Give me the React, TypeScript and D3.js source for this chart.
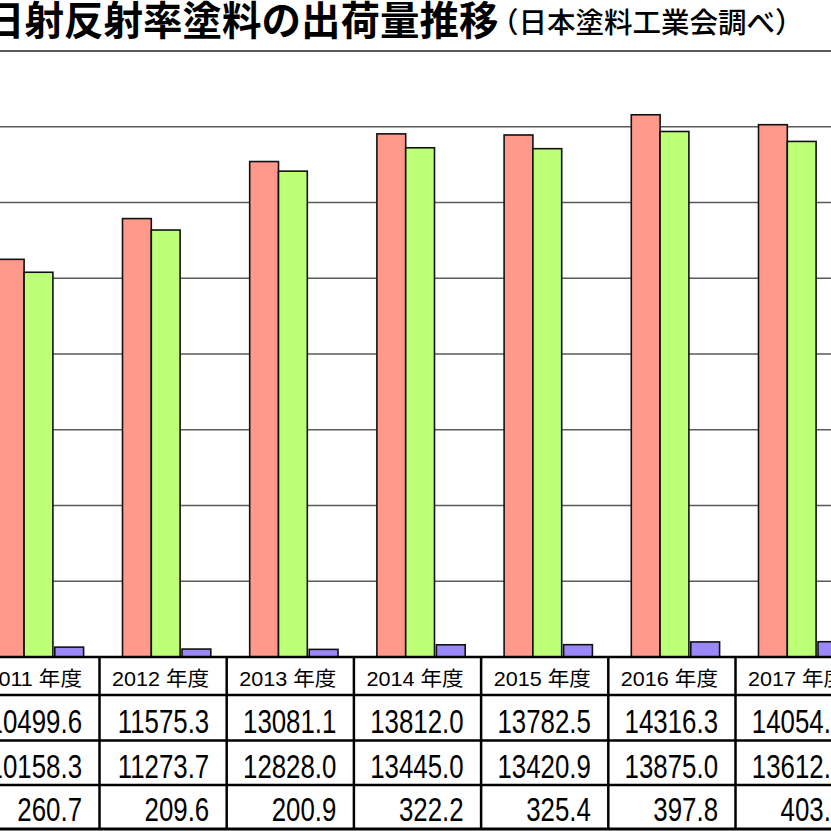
import React from "react";
import * as d3 from "d3";

const years = ["2011", "2012", "2013", "2014", "2015", "2016", "2017"];
const seriesA = [10499.6, 11575.3, 13081.1, 13812.0, 13782.5, 14316.3, 14054.2];
const seriesB = [10158.3, 11273.7, 12828.0, 13445.0, 13420.9, 13875.0, 13612.4];
const seriesC = [260.7, 209.6, 200.9, 322.2, 325.4, 397.8, 403.6];
const yTicks = [2000, 4000, 6000, 8000, 10000, 12000, 14000, 16000];
const titleMain = "日射反射率塗料の出荷量推移";
const titleSub = "（日本塗料工業会調べ）";
const yearSuffix = " 年度";

const W = 831;
const H = 831;
const colors = ["#FF998C", "#BEFF78", "#9B88F8"];

export default function App() {
  const x = d3
    .scaleBand<string>()
    .domain(years)
    .range([-27.7, -27.7 + years.length * 127.2])
    .padding(0);
  const y = d3.scaleLinear().domain([0, 16000]).range([657, 51]);
  const bw = 28.8;
  const offsets = [23, 23 + bw, 82.5];
  const series = [seriesA, seriesB, seriesC];
  const rowLines = [657, 695, 740.5, 785, 829];
  const rowBase = [733, 778, 821];
  const textFont = "'Liberation Sans', 'Noto Sans CJK JP', sans-serif";
  const step = x.step();

  return (
    <div style={{ position: "fixed", left: 0, top: 0, width: W, height: H, overflow: "hidden", background: "#fff" }}>
      <svg width={W} height={H} viewBox={`0 0 ${W} ${H}`} style={{ display: "block" }}>
        <rect x={0} y={0} width={W} height={H} fill="#fff" />
        <text x={-15} y={35} fontFamily="'Noto Sans CJK JP', sans-serif" fontWeight={700} fontSize={39.5} fill="#000">
          {titleMain}
        </text>
        <text x={490} y={33} fontFamily="'Noto Sans CJK JP', sans-serif" fontWeight={500} fontSize={28.5} fill="#000">
          {titleSub}
        </text>
        {yTicks.map((t) => (
          <line key={t} x1={0} x2={W} y1={y(t)} y2={y(t)} stroke="#5a5a5a" strokeWidth={t === 16000 ? 1.8 : 1.3} />
        ))}
        {series.map((s, si) =>
          s.map((v, i) => (
            <rect
              key={`${si}-${i}`}
              x={(x(years[i]) as number) + offsets[si]}
              y={y(v)}
              width={bw}
              height={y(0) - y(v)}
              fill={colors[si]}
              stroke="#111"
              strokeWidth={1.6}
            />
          ))
        )}
        <rect x={0} y={657} width={W} height={H - 657} fill="#fff" />
        {rowLines.map((ry, i) => (
          <line key={`r${i}`} x1={0} x2={W} y1={ry} y2={ry} stroke="#000" strokeWidth={i === rowLines.length - 1 ? 3 : 2.5} />
        ))}
        {years.map((yr) => (
          <line
            key={`v${yr}`}
            x1={(x(yr) as number) + step}
            x2={(x(yr) as number) + step}
            y1={657}
            y2={829}
            stroke="#000"
            strokeWidth={2.5}
          />
        ))}
        {years.map((yr) => {
          const right = (x(yr) as number) + step - 17.5;
          return (
            <g key={`h${yr}`} transform={`translate(${right},686) scale(1.08,1)`}>
              <text x={0} y={0} textAnchor="end" fontFamily={textFont} fontSize={20} fill="#000">
                {yr + yearSuffix}
              </text>
            </g>
          );
        })}
        {series.map((s, si) =>
          s.map((v, i) => {
            const right = (x(years[i]) as number) + step - 17.5;
            return (
              <g key={`t${si}-${i}`} transform={`translate(${right},${rowBase[si]}) scale(0.76,1)`}>
                <text x={0} y={0} textAnchor="end" fontFamily={textFont} fontSize={34} fill="#000">
                  {v.toFixed(1)}
                </text>
              </g>
            );
          })
        )}
      </svg>
    </div>
  );
}
